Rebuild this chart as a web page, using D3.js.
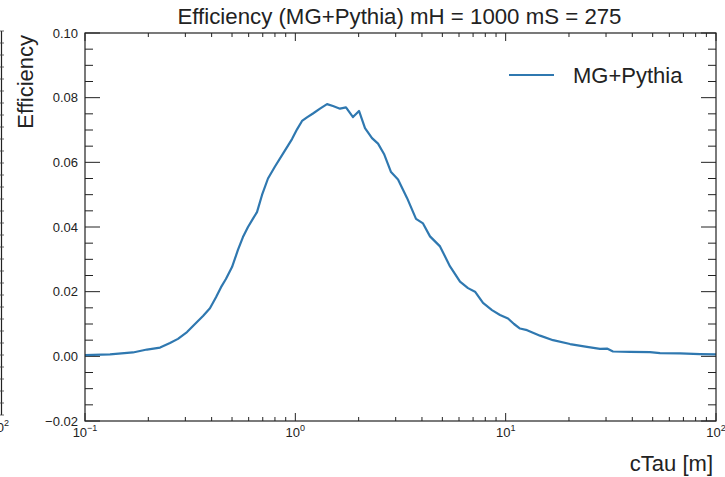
<!DOCTYPE html>
<html>
<head>
<meta charset="utf-8">
<script src="https://cdn.jsdelivr.net/npm/d3@7"></script>
<style>
  body { margin: 0; background: #fff; }
  svg { display: block; font-family: "Liberation Sans", Arial, Helvetica, sans-serif; }
</style>
</head>
<body>
<svg id="chart" width="725" height="477"></svg>
<script>
// values (cTau in m, efficiency)
const ctau = [0.100, 0.1315, 0.169, 0.197, 0.2275, 0.2535, 0.2767, 0.3055, 0.3334, 0.364,
  0.3927, 0.4196, 0.4434, 0.4677, 0.500, 0.5335, 0.5636, 0.5955, 0.6291, 0.6572,
  0.6945, 0.7413, 0.8003, 0.8737, 0.9643, 1.019, 1.076, 1.136, 1.213, 1.310,
  1.415, 1.510, 1.631, 1.741, 1.880, 2.008, 2.144, 2.315, 2.473, 2.640,
  2.851, 3.078, 3.396, 3.748, 4.046, 4.368, 4.874, 5.438, 6.067, 6.622,
  7.149, 7.804, 8.610, 9.400, 10.26, 10.96, 11.70, 12.64, 14.57, 16.80,
  20.23, 24.36, 28.09, 30.33, 32.38, 39.00, 48.56, 54.18, 67.44, 83.95, 100];
const efficiency = [0.0004, 0.0006, 0.0012, 0.0021, 0.0027, 0.0041, 0.0054, 0.0075, 0.0100, 0.0125,
  0.0149, 0.0183, 0.0214, 0.0239, 0.0276, 0.0329, 0.0369, 0.0400, 0.0426, 0.0446,
  0.0499, 0.0550, 0.0587, 0.0627, 0.0672, 0.0702, 0.0728, 0.0739, 0.0751, 0.0766,
  0.0780, 0.0774, 0.0766, 0.0770, 0.0740, 0.0759, 0.0706, 0.0675, 0.0658, 0.0626,
  0.0570, 0.0547, 0.0490, 0.0425, 0.0411, 0.0371, 0.0340, 0.0278, 0.0231, 0.0211,
  0.0200, 0.0165, 0.0143, 0.0128, 0.0117, 0.0100, 0.0086, 0.0081, 0.0064, 0.0050,
  0.0038, 0.0029, 0.0023, 0.0024, 0.0015, 0.0014, 0.0013, 0.0010, 0.0009, 0.0007, 0.0006];

const yMajorTicks = [-0.02, 0.00, 0.02, 0.04, 0.06, 0.08, 0.10];
const xDecadeExponents = [-1, 0, 1, 2];
const seriesName = 'MG+Pythia';
const titleText = 'Efficiency (MG+Pythia) mH = 1000 mS = 275';

const margin = { left: 85, right: 9, top: 33, bottom: 56 };
const width = 725;
const height = 477;
const innerW = width - margin.left - margin.right;
const innerH = height - margin.top - margin.bottom;
const lineColor = '#2f78b0';

const svg = d3.select('#chart');

const x = d3.scaleLog().domain([0.1, 100]).range([0, innerW]);
const y = d3.scaleLinear().domain([-0.02, 0.10]).range([innerH, 0]);

// partial neighbouring panel on the far left edge
const edge = svg.append('g').attr('class', 'edge');
const edgeY = d3.scaleLinear().domain([0, 1]).range([415, 31]);
edge.append('line')
  .attr('x1', 1.5).attr('x2', 1.5)
  .attr('y1', edgeY(0)).attr('y2', edgeY(1))
  .attr('stroke', '#222').attr('stroke-width', 1.2);
edge.selectAll('line.etick')
  .data(d3.range(0, 1.0001, 1 / 32))
  .enter()
  .append('line')
  .attr('class', 'etick')
  .attr('x1', 0).attr('x2', 4)
  .attr('y1', (d) => edgeY(d)).attr('y2', (d) => edgeY(d))
  .attr('stroke', '#444').attr('stroke-width', 0.8);
const edgeLabel = edge.append('text')
  .attr('x', 9).attr('y', 432)
  .attr('text-anchor', 'end')
  .attr('font-size', 13)
  .attr('fill', '#222');
edgeLabel.append('tspan').text('10');
edgeLabel.append('tspan').attr('dy', -6).attr('font-size', 9).text('2');

const plot = svg.append('g').attr('transform', `translate(${margin.left},${margin.top})`);

// minor/major ticks
const yMinor = d3.range(-0.02, 0.1001, 0.005).filter((v) => Math.abs(Math.round(v * 50) - v * 50) > 1e-6);
const xMinor = [];
xDecadeExponents.slice(0, -1).forEach((e) => {
  for (let k = 2; k <= 9; k++) xMinor.push(k * Math.pow(10, e));
});
const xMajor = xDecadeExponents.map((e) => Math.pow(10, e));

const ticks = plot.append('g').attr('class', 'ticks').attr('stroke', '#222').attr('stroke-width', 1);
// left and right
[[0, 1], [innerW, -1]].forEach(([x0, dir]) => {
  ticks.selectAll(null).data(yMajorTicks).enter().append('line')
    .attr('x1', x0).attr('x2', x0 + dir * 15)
    .attr('y1', (d) => y(d)).attr('y2', (d) => y(d));
  ticks.selectAll(null).data(yMinor).enter().append('line')
    .attr('x1', x0).attr('x2', x0 + dir * 8)
    .attr('y1', (d) => y(d)).attr('y2', (d) => y(d));
});
// bottom and top
[[innerH, -1], [0, 1]].forEach(([y0, dir]) => {
  ticks.selectAll(null).data(xMajor).enter().append('line')
    .attr('y1', y0).attr('y2', y0 + dir * 8)
    .attr('x1', (d) => x(d)).attr('x2', (d) => x(d));
  ticks.selectAll(null).data(xMinor).enter().append('line')
    .attr('y1', y0).attr('y2', y0 + dir * 4)
    .attr('x1', (d) => x(d)).attr('x2', (d) => x(d));
});

// tick labels
plot.append('g').selectAll('text')
  .data(yMajorTicks)
  .enter()
  .append('text')
  .attr('x', -7)
  .attr('y', (d) => y(d))
  .attr('dy', '0.35em')
  .attr('text-anchor', 'end')
  .attr('font-size', 13)
  .attr('fill', '#222')
  .text((d) => d3.format('.2f')(d).replace('-', '\u2212'));

const xLabels = plot.append('g').selectAll('text')
  .data(xDecadeExponents)
  .enter()
  .append('text')
  .attr('x', (d) => x(Math.pow(10, d)))
  .attr('y', innerH + 16)
  .attr('text-anchor', 'middle')
  .attr('font-size', 13)
  .attr('fill', '#222');
xLabels.append('tspan').text('10');
xLabels.append('tspan').attr('dy', -6).attr('font-size', 9)
  .text((d) => String(d).replace('-', '\u2212'));

// curve
const line = d3.line()
  .x((d, i) => x(ctau[i]))
  .y((d) => y(d));
plot.append('path')
  .datum(efficiency)
  .attr('d', line)
  .attr('fill', 'none')
  .attr('stroke', lineColor)
  .attr('stroke-width', 2.2)
  .attr('stroke-linejoin', 'round');

// frame
plot.append('rect')
  .attr('width', innerW).attr('height', innerH)
  .attr('fill', 'none').attr('stroke', '#222').attr('stroke-width', 1.2);

// legend
const legend = plot.append('g').attr('transform', `translate(${424},${42})`);
legend.append('line').attr('x1', 0).attr('x2', 45).attr('y1', 0).attr('y2', 0)
  .attr('stroke', lineColor).attr('stroke-width', 2.2);
legend.append('text').attr('x', 64).attr('y', 0).attr('dy', '0.35em')
  .attr('font-size', 22).attr('fill', '#222').text(seriesName);

// title and axis labels
svg.append('text')
  .attr('x', margin.left + innerW / 2 - 1).attr('y', 24)
  .attr('text-anchor', 'middle').attr('font-size', 22).attr('fill', '#222')
  .attr('textLength', 444).attr('lengthAdjust', 'spacingAndGlyphs')
  .text(titleText);
svg.append('text')
  .attr('x', 713).attr('y', 471)
  .attr('text-anchor', 'end').attr('font-size', 22).attr('fill', '#222')
  .text('cTau [m]');
svg.append('text')
  .attr('transform', 'translate(33,35) rotate(-90)')
  .attr('text-anchor', 'end').attr('font-size', 22).attr('fill', '#222')
  .text('Efficiency');
</script>
</body>
</html>
